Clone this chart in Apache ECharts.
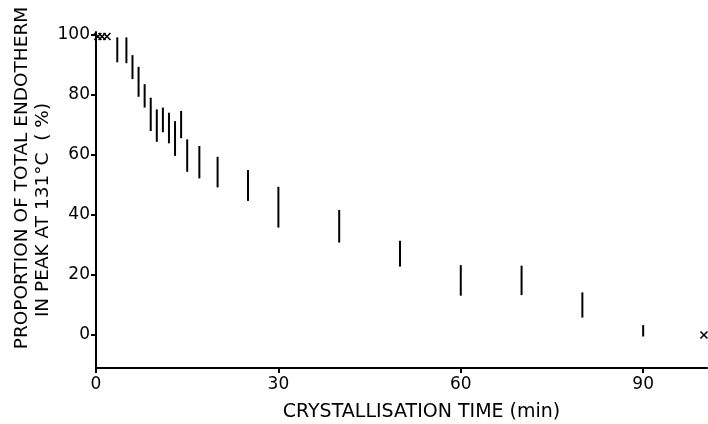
<!DOCTYPE html>
<html>
<head>
<meta charset="utf-8">
<script src="https://cdn.jsdelivr.net/npm/echarts@6/dist/echarts.min.js"></script>
<style>
  html, body { margin: 0; padding: 0; background: #fff; }
  #chart { width: 708px; height: 424px; }
</style>
</head>
<body>
<div id="chart"></div>
<script>
// crystallisation time (min) for each measured range
const times = [3.5, 5, 6, 7, 8, 9, 10, 11, 12, 13, 14, 15, 17, 20, 25, 30, 40, 50, 60, 70, 80, 90];
// upper and lower ends of each vertical bar (%)
const highs = [99.2, 99.2, 93.3, 89.4, 83.6, 79.1, 75.2, 75.8, 74.1, 71.3, 74.7, 65.2, 63, 59.4, 55, 49.4, 41.7, 31.4, 23.3, 23.1, 14.2, 3.3];
const lows = [90.9, 90.6, 85.3, 79.4, 75.8, 68, 64.4, 67.6, 63.9, 59.7, 65.6, 54.4, 52.2, 49.2, 44.7, 35.8, 30.8, 22.8, 13.1, 13.3, 5.8, -0.5];
// single points marked with a cross
const crossTimes = [0.3, 1, 1.8, 100];
const crossValues = [99.5, 99.5, 99.5, 0];

const xTicks = [0, 30, 60, 90];
const yTicks = [0, 20, 40, 60, 80, 100];

const xTitle = 'CRYSTALLISATION TIME (min)';
const yTitle1 = 'PROPORTION OF TOTAL ENDOTHERM';
const yTitle2 = 'IN PEAK AT 131°C  ( %)';

const font = 'DejaVu Sans, sans-serif';

const chart = echarts.init(document.getElementById('chart'));

const barData = times.map((t, i) => [t, lows[i], highs[i]]);
const crossData = crossTimes.map((t, i) => [t, crossValues[i]]);

chart.setOption({
  animation: false,
  grid: { left: 96, right: 1, top: 32, bottom: 56, outerBoundsMode: 'none' },
  graphic: [
    {
      type: 'text',
      x: 22,
      y: 178,
      rotation: Math.PI / 2,
      style: { text: yTitle1, font: '18.5px ' + font, fill: '#000', align: 'center', verticalAlign: 'middle' },
    },
    {
      type: 'text',
      x: 43,
      y: 210,
      rotation: Math.PI / 2,
      style: { text: yTitle2, font: '18.5px ' + font, fill: '#000', align: 'center', verticalAlign: 'middle' },
    },
  ],
  xAxis: {
    type: 'value',
    min: 0,
    max: 100.5,
    name: xTitle,
    nameLocation: 'middle',
    nameGap: 35,
    nameTextStyle: { fontFamily: font, fontSize: 19, color: '#000', padding: [0, 0, 0, 40] },
    axisLine: { show: true, onZero: false, lineStyle: { color: '#000', width: 2 } },
    axisTick: { show: true, length: 5, lineStyle: { color: '#000', width: 2 }, customValues: xTicks },
    axisLabel: { fontFamily: font, fontSize: 17, color: '#000', margin: 8, customValues: xTicks },
    splitLine: { show: false },
  },
  yAxis: {
    type: 'value',
    min: -11,
    max: 101,
    axisLine: { show: true, onZero: false, lineStyle: { color: '#000', width: 2 } },
    axisTick: { show: true, length: 5, lineStyle: { color: '#000', width: 2 }, customValues: yTicks },
    axisLabel: { fontFamily: font, fontSize: 17, color: '#000', margin: 6, customValues: yTicks },
    splitLine: { show: false },
  },
  series: [
    {
      type: 'custom',
      data: barData,
      encode: { x: 0, y: [1, 2] },
      renderItem: (params, api) => {
        const p1 = api.coord([api.value(0), api.value(1)]);
        const p2 = api.coord([api.value(0), api.value(2)]);
        return {
          type: 'line',
          shape: { x1: p1[0], y1: p1[1], x2: p2[0], y2: p2[1] },
          style: { stroke: '#000', lineWidth: 2 },
        };
      },
    },
    {
      type: 'custom',
      data: crossData,
      encode: { x: 0, y: 1 },
      renderItem: (params, api) => {
        const p = api.coord([api.value(0), api.value(1)]);
        const s = 3.5;
        return {
          type: 'group',
          children: [
            { type: 'line', shape: { x1: p[0] - s, y1: p[1] - s, x2: p[0] + s, y2: p[1] + s }, style: { stroke: '#000', lineWidth: 1.6 } },
            { type: 'line', shape: { x1: p[0] - s, y1: p[1] + s, x2: p[0] + s, y2: p[1] - s }, style: { stroke: '#000', lineWidth: 1.6 } },
          ],
        };
      },
    },
  ],
});
</script>
</body>
</html>
